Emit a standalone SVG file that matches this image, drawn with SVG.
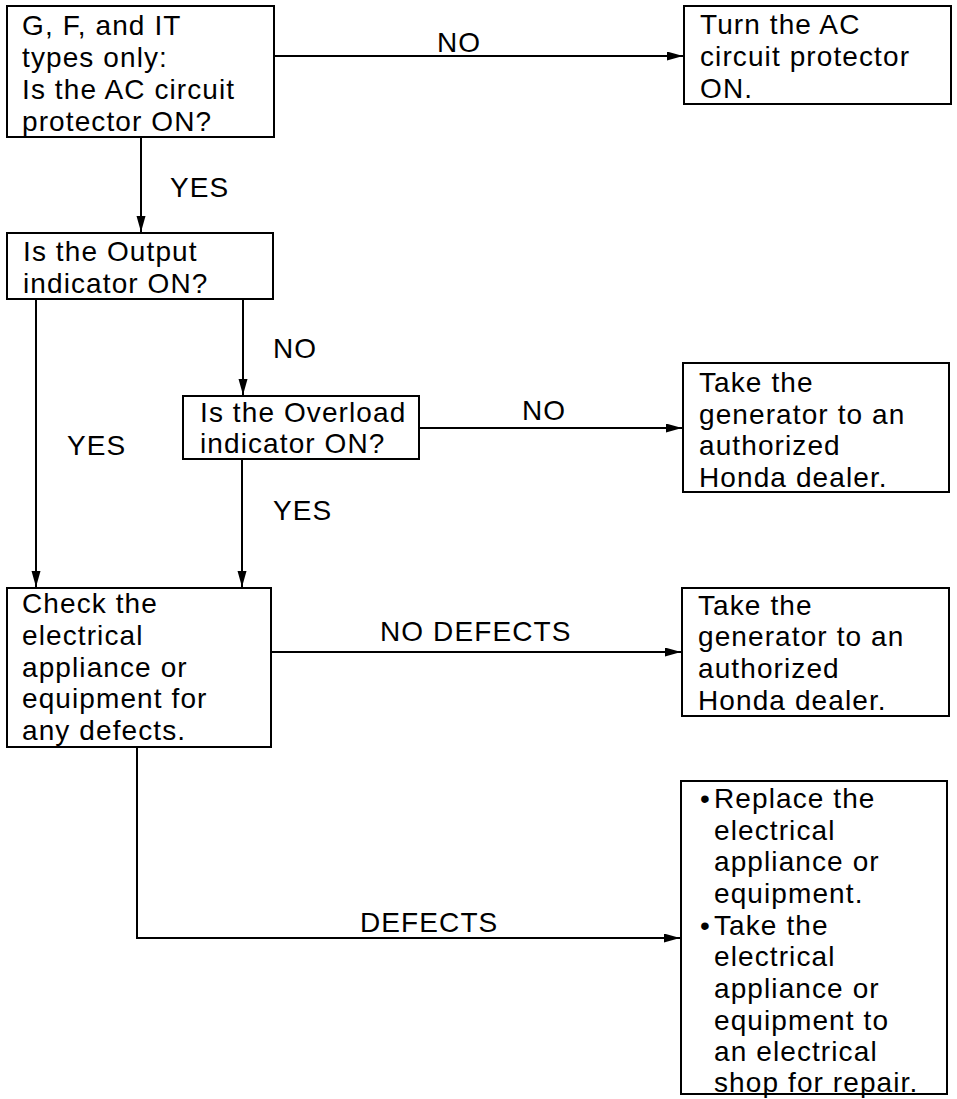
<svg xmlns="http://www.w3.org/2000/svg" width="957" height="1099" viewBox="0 0 957 1099">
<style>
.box{fill:#fff;stroke:#000;stroke-width:2}
.t{font-family:"Liberation Sans",Arial,sans-serif;font-size:28px;letter-spacing:1.1px;fill:#000}
.c{fill:none;stroke:#000;stroke-width:2}
</style>
<defs>
<marker id="ah" markerUnits="userSpaceOnUse" markerWidth="18" markerHeight="10" refX="16" refY="4.5" orient="auto">
<path d="M0,0 L16,4.5 L0,9 z" fill="#000"/>
</marker>
</defs>
<rect width="957" height="1099" fill="#fff"/>
<g id="connectors">
<path class="c" d="M274,56 H683" marker-end="url(#ah)"/>
<path class="c" d="M141,137 V232" marker-end="url(#ah)"/>
<path class="c" d="M36,299 V587" marker-end="url(#ah)"/>
<path class="c" d="M243,299 V395" marker-end="url(#ah)"/>
<path class="c" d="M419,428 H682" marker-end="url(#ah)"/>
<path class="c" d="M242,459 V587" marker-end="url(#ah)"/>
<path class="c" d="M271,652 H681" marker-end="url(#ah)"/>
<path class="c" d="M137,747 V938 H680" marker-end="url(#ah)"/>
<text class="t" x="437" y="52">NO</text>
<text class="t" x="170" y="197">YES</text>
<text class="t" x="273" y="358">NO</text>
<text class="t" x="67" y="455">YES</text>
<text class="t" x="522" y="420">NO</text>
<text class="t" x="273" y="520">YES</text>
<text class="t" x="380" y="641">NO DEFECTS</text>
<text class="t" x="360" y="932">DEFECTS</text>
</g>
<g id="n1">
<rect class="box" x="7" y="6" width="267" height="131"/>
<text class="t" x="22" y="35">G, F, and IT</text>
<text class="t" x="22" y="67">types only:</text>
<text class="t" x="22" y="99">Is the AC circuit</text>
<text class="t" x="22" y="131">protector ON?</text>
</g>
<g id="n2">
<rect class="box" x="684" y="6" width="267" height="98"/>
<text class="t" x="700" y="34">Turn the AC</text>
<text class="t" x="700" y="66">circuit protector</text>
<text class="t" x="700" y="98">ON.</text>
</g>
<g id="n3">
<rect class="box" x="7" y="233" width="266" height="66"/>
<text class="t" x="23" y="261">Is the Output</text>
<text class="t" x="23" y="293">indicator ON?</text>
</g>
<g id="n4">
<rect class="box" x="183" y="396" width="236" height="63"/>
<text class="t" x="200" y="422">Is the Overload</text>
<text class="t" x="200" y="453">indicator ON?</text>
</g>
<g id="n5">
<rect class="box" x="683" y="363" width="266" height="129"/>
<text class="t" x="699" y="392">Take the</text>
<text class="t" x="699" y="424">generator to an</text>
<text class="t" x="699" y="455">authorized</text>
<text class="t" x="699" y="487">Honda dealer.</text>
</g>
<g id="n6">
<rect class="box" x="7" y="588" width="264" height="159"/>
<text class="t" x="22" y="613">Check the</text>
<text class="t" x="22" y="645">electrical</text>
<text class="t" x="22" y="677">appliance or</text>
<text class="t" x="22" y="708">equipment for</text>
<text class="t" x="22" y="740">any defects.</text>
</g>
<g id="n7">
<rect class="box" x="682" y="588" width="267" height="128"/>
<text class="t" x="698" y="615">Take the</text>
<text class="t" x="698" y="646">generator to an</text>
<text class="t" x="698" y="678">authorized</text>
<text class="t" x="698" y="710">Honda dealer.</text>
</g>
<g id="n8">
<rect class="box" x="681" y="781" width="266" height="313"/>
<text class="t" x="700" y="808">•</text>
<text class="t" x="714" y="808">Replace the</text>
<text class="t" x="714" y="840">electrical</text>
<text class="t" x="714" y="871">appliance or</text>
<text class="t" x="714" y="903">equipment.</text>
<text class="t" x="700" y="935">•</text>
<text class="t" x="714" y="935">Take the</text>
<text class="t" x="714" y="966">electrical</text>
<text class="t" x="714" y="998">appliance or</text>
<text class="t" x="714" y="1030">equipment to</text>
<text class="t" x="714" y="1061">an electrical</text>
<text class="t" x="714" y="1092">shop for repair.</text>
</g>
</svg>
